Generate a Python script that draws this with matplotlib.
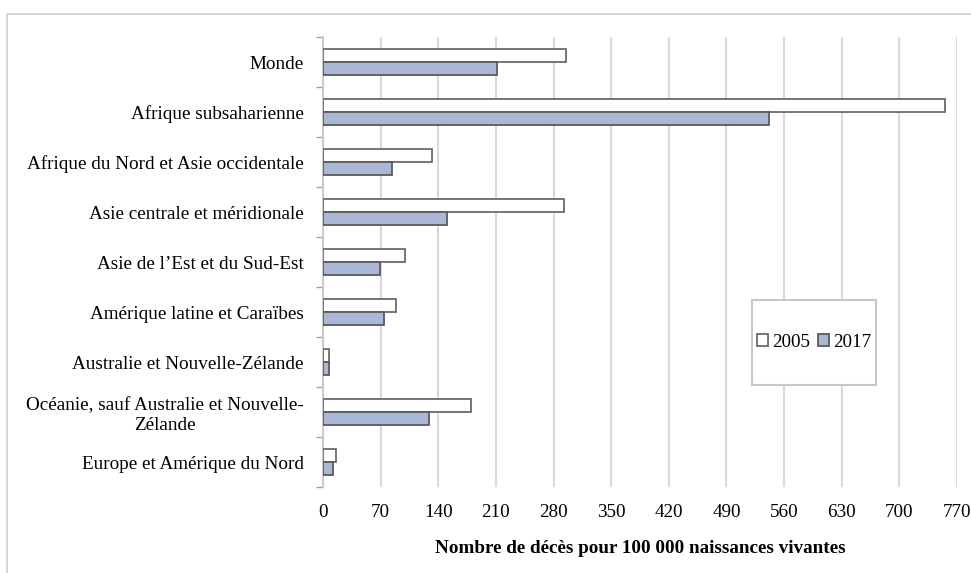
import matplotlib.pyplot as plt
import matplotlib.patches as mpatches
import numpy as np

plt.rcParams['font.family'] = ['Liberation Serif', 'DejaVu Serif']

# categories, top to bottom
regions = [
    "Monde",
    "Afrique subsaharienne",
    "Afrique du Nord et Asie occidentale",
    "Asie centrale et méridionale",
    "Asie de l\u2019Est et du Sud-Est",
    "Amérique latine et Caraïbes",
    "Australie et Nouvelle-Zélande",
    "Océanie, sauf Australie et Nouvelle-\nZélande",
    "Europe et Amérique du Nord",
]
mmr_2005 = [295, 756, 133, 293, 100, 89, 7, 180, 16]
mmr_2017 = [211, 542, 84, 151, 69, 74, 7, 129, 12]
xticks = list(range(0, 771, 70))

W, H = 971, 573
fig = plt.figure(figsize=(W / 100, H / 100), dpi=100)
ax = fig.add_axes([0.3326, 0.150, 0.653, 0.785])

# light outer frame like the spreadsheet chart area
fig.patches.append(mpatches.Rectangle((7 / W, -0.1), 1.2, 1 - 14 / H + 0.1,
                                      transform=fig.transFigure, fill=False,
                                      edgecolor='#d0d0d0', linewidth=1.2))

y = np.arange(len(regions))
h = 0.26
ax.barh(y - h / 2, mmr_2005, height=h, color='white', edgecolor='#6b6b6b',
        linewidth=1.3, label='2005', zorder=3)
ax.barh(y + h / 2, mmr_2017, height=h, color='#a9b8d6', edgecolor='#5a5a5a',
        linewidth=1.3, label='2017', zorder=3)

ax.set_ylim(len(regions) - 0.5, -0.5)
ax.set_xlim(0, 770)
ax.set_xticks(xticks)
ax.set_yticks(y)
ax.set_yticklabels(regions, fontsize=13.8)
for lab in ax.get_yticklabels():
    lab.set_multialignment('center')
ax.set_yticks(np.arange(-0.5, len(regions)), minor=True)
ax.tick_params(axis='y', which='major', length=0, pad=14)
ax.tick_params(axis='y', which='minor', length=5, color='#a0a0a0', width=1)
ax.tick_params(axis='x', length=0, labelsize=13.8, pad=12)

ax.grid(axis='x', color='#d9d9d9', linewidth=1.5, zorder=0)
for s in ['top', 'right', 'bottom']:
    ax.spines[s].set_visible(False)
ax.spines['left'].set_color('#c8c8c8')
ax.spines['left'].set_linewidth(1.3)

ax.set_xlabel('Nombre de décès pour 100 000 naissances vivantes',
              fontsize=13.8, fontweight='bold', labelpad=14)

# legend box (drawn separately so it can be taller than its contents)
bx0, by0, bx1, by1 = 752, 300, 876, 385
fig.patches.append(mpatches.Rectangle((bx0 / W, 1 - by1 / H), (bx1 - bx0) / W,
                                      (by1 - by0) / H, transform=fig.transFigure,
                                      facecolor='white', edgecolor='#c8c8c8',
                                      linewidth=1.5, zorder=5))
leg = fig.legend(loc='center', bbox_to_anchor=((bx0 + bx1) / 2 / W, 1 - (by0 + by1) / 2 / H),
                 ncol=2, fontsize=13.8, frameon=False,
                 handlelength=0.6, handleheight=0.6, handletextpad=0.2,
                 columnspacing=0.4, borderpad=0)
leg.set_zorder(6)

fig.savefig('out.png', dpi=100)
